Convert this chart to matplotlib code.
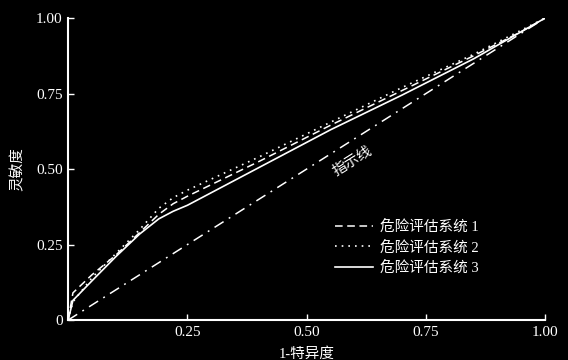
import matplotlib

matplotlib.use("Agg")
import matplotlib.pyplot as plt

# ROC curves
fpr = [0.0, 0.01, 0.05, 0.10, 0.15, 0.19, 0.22, 0.25, 0.40, 0.55, 0.70, 0.85, 0.95, 1.0]
tpr_sys1 = [0.0, 0.09, 0.15, 0.215, 0.29, 0.35, 0.385, 0.41, 0.525, 0.645, 0.76, 0.875, 0.955, 1.0]
tpr_sys2 = [0.0, 0.06, 0.14, 0.22, 0.30, 0.37, 0.405, 0.43, 0.54, 0.655, 0.77, 0.88, 0.96, 1.0]
tpr_sys3 = [0.0, 0.065, 0.13, 0.21, 0.285, 0.335, 0.36, 0.38, 0.505, 0.63, 0.745, 0.865, 0.955, 1.0]
chance = [0.0, 1.0]

series_labels = ["危险评估系统 1", "危险评估系统 2", "危险评估系统 3"]
x_ticks = [0.25, 0.50, 0.75, 1.00]
x_ticklabels = ["0.25", "0.50", "0.75", "1.00"]
y_ticks = [0, 0.25, 0.50, 0.75, 1.00]
y_ticklabels = ["0", "0.25", "0.50", "0.75", "1.00"]

FAMILY = ["Liberation Serif", "Noto Sans CJK SC", "DejaVu Sans"]
INK = "white"
BG = "black"

plt.rcParams["font.family"] = FAMILY

fig = plt.figure(figsize=(5.68, 3.6), dpi=100)
fig.patch.set_facecolor(BG)
ax = fig.add_axes([0.12, 0.111, 0.84, 0.839])
ax.set_facecolor(BG)

ax.plot(chance, chance, color=INK, lw=1.1, dashes=(7, 4, 1.2, 4))
ax.plot(fpr, tpr_sys1, color=INK, lw=1.1, dashes=(5, 3), label=series_labels[0])
ax.plot(fpr, tpr_sys2, color=INK, lw=1.2, dashes=(1, 3), label=series_labels[1])
ax.plot(fpr, tpr_sys3, color=INK, lw=1.2, label=series_labels[2])

ax.text(0.595, 0.525, "指示线", rotation=32, ha="center", va="center",
        color=INK, fontsize=10.5, family=["Noto Sans CJK SC"])

ax.set_xlim(0, 1)
ax.set_ylim(0, 1)
ax.set_xticks(x_ticks)
ax.set_xticklabels(x_ticklabels)
ax.set_yticks(y_ticks)
ax.set_yticklabels(y_ticklabels)
ax.tick_params(direction="in", length=4, width=1, colors=INK, labelsize=11, pad=4)

for s in ("top", "right"):
    ax.spines[s].set_visible(False)
for s in ("left", "bottom"):
    ax.spines[s].set_color(INK)
    ax.spines[s].set_linewidth(1.5)

ax.set_xlabel("1-特异度", color=INK, fontsize=10.5, labelpad=6)
ax.set_ylabel("灵敏度", color=INK, fontsize=10.5, labelpad=8)

leg = ax.legend(loc="upper left", bbox_to_anchor=(0.56, 0.332), frameon=False,
                borderpad=0, borderaxespad=0, fontsize=10.5, handlelength=2.6,
                handletextpad=0.45, labelspacing=0.42)
for t in leg.get_texts():
    t.set_color(INK)

fig.savefig("out.png", facecolor=BG)
